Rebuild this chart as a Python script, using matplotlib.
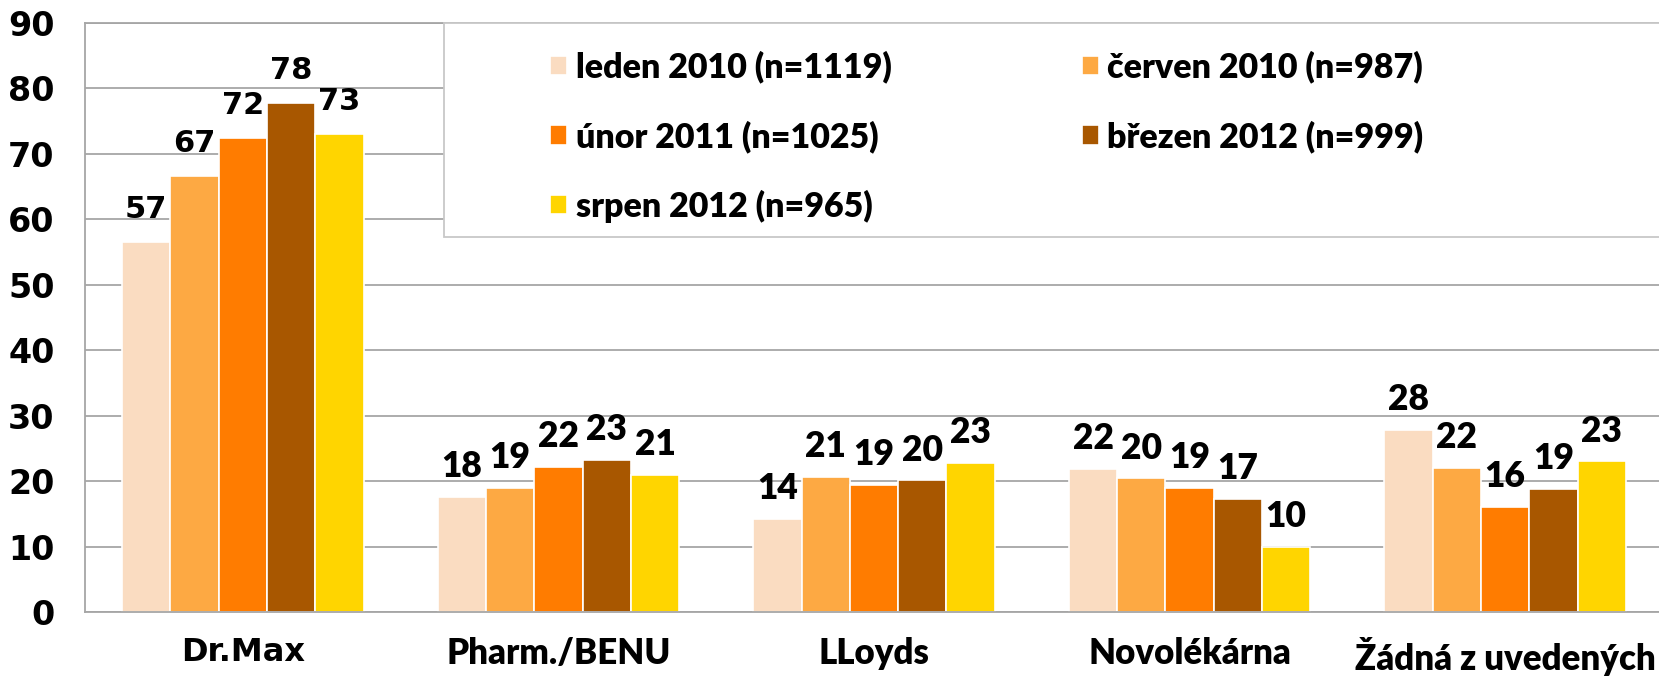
import matplotlib
matplotlib.use("Agg")
import matplotlib.pyplot as plt
from matplotlib.patches import Rectangle
import numpy as np

categories = ["Dr.Max", "Pharm./BENU", "LLoyds", "Novolékárna", "Žádná z uvedených"]
series_names = ["leden 2010 (n=1119)", "červen 2010 (n=987)", "únor 2011 (n=1025)",
                "březen 2012 (n=999)", "srpen 2012 (n=965)"]
leden_2010 = [56.6, 17.6, 14.2, 21.9, 27.8]
cerven_2010 = [66.6, 18.9, 20.7, 20.4, 22.0]
unor_2011 = [72.4, 22.2, 19.4, 18.9, 16.0]
brezen_2012 = [77.7, 23.3, 20.1, 17.3, 18.8]
srpen_2012 = [73.0, 20.9, 22.8, 10.0, 23.0]
series = [leden_2010, cerven_2010, unor_2011, brezen_2012, srpen_2012]
colors = ["#FADCC1", "#FDA943", "#FF7C00", "#A85700", "#FFD500"]
yticks = [0, 10, 20, 30, 40, 50, 60, 70, 80, 90]

narrow = "Lato"
wide = "DejaVu Sans"
nw = "heavy"

W, H = 1659, 678
fig = plt.figure(figsize=(W / 100, H / 100), dpi=100)
ax = fig.add_axes([85 / W, 1 - 612 / H, (1663 - 85) / W, (612 - 23) / H])

x = np.arange(len(categories))
bw = 0.153
bars = []
for i, (vals, col, name) in enumerate(zip(series, colors, series_names)):
    pos = x + (i - 2) * bw
    b = ax.bar(pos, vals, width=bw, color=col, edgecolor="white", linewidth=1.2,
               label=name, zorder=2)
    bars.append(b)
    for j, (p, v) in enumerate(zip(pos, vals)):
        if j == 0:
            ax.annotate(f"{int(round(v))}", (p, v), xytext=(0, 13), textcoords="offset points",
                        ha="center", va="bottom", fontsize=22, fontweight="bold",
                        family=wide, color="black", zorder=5)
        else:
            ax.annotate(f"{int(round(v))}", (p, v), xytext=(0, 10), textcoords="offset points",
                        ha="center", va="bottom", fontsize=25.5, fontweight=nw,
                        family=narrow, color="black", zorder=5)

ax.set_xlim(-0.5, 4.5)
ax.set_ylim(0, 90)
ax.set_yticks(yticks)
ax.set_yticklabels([str(t) for t in yticks], fontsize=24, fontweight="bold", family=wide)
ax.set_xticks(x)
ax.set_xticklabels(categories)
for k, lab in enumerate(ax.get_xticklabels()):
    if k == 0:
        lab.set_family(wide)
        lab.set_fontsize(23)
        lab.set_fontweight("bold")
    else:
        lab.set_family(narrow)
        lab.set_fontsize(25)
        lab.set_fontweight(nw)
ax.tick_params(axis="both", length=0)
ax.tick_params(axis="y", pad=22)
ax.tick_params(axis="x", pad=18)
ax.grid(axis="y", color="#A6A6A6", linewidth=1.3, zorder=0)
ax.set_axisbelow(True)
for s in ax.spines.values():
    s.set_color("#A6A6A6")
    s.set_linewidth(1.3)
ax.spines["right"].set_visible(False)

box = Rectangle((444 / W, 1 - 237 / H), (1670 - 444) / W, (237 - 23) / H,
                transform=fig.transFigure, facecolor="white", edgecolor="#C8C8C8",
                linewidth=1.3, zorder=3)
fig.patches.append(box)

order = [0, 2, 4, 1, 3]
leg = fig.legend([bars[i] for i in order], [series_names[i] for i in order],
                 loc="upper left", bbox_to_anchor=(550 / W, 1 - 51 / H),
                 bbox_transform=fig.transFigure, ncol=2, frameon=False,
                 prop={"family": narrow, "weight": nw, "size": 24.5},
                 handlelength=0.5, handleheight=0.5, handletextpad=0.25,
                 columnspacing=5.6, labelspacing=1.07, borderpad=0, borderaxespad=0)
leg.set_zorder(4)

fig.savefig("out.png", dpi=100)
